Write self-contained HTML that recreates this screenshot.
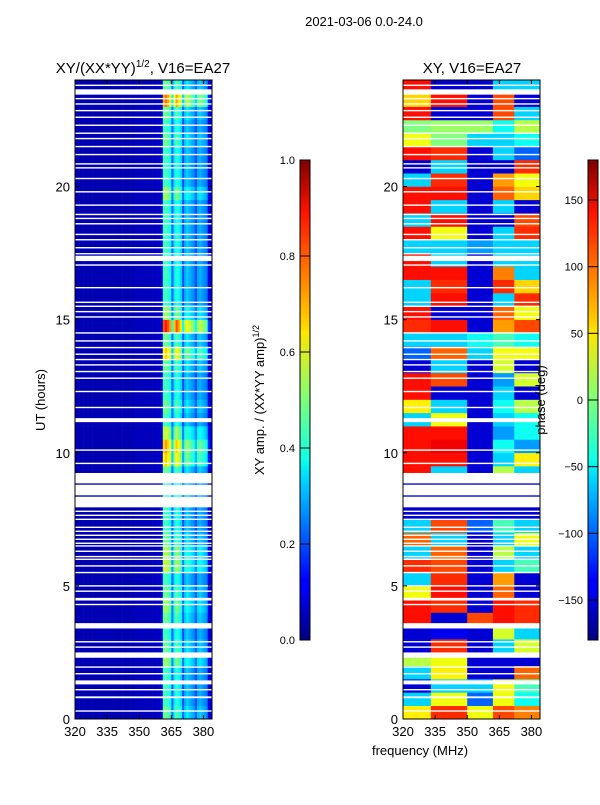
<!DOCTYPE html>
<html><head><meta charset="utf-8">
<style>
body{margin:0;background:#fff;}
svg text{font-family:"Liberation Sans",sans-serif;fill:#000;}
</style></head>
<body>
<svg id="fig" width="600" height="800" xmlns="http://www.w3.org/2000/svg">
<defs>
<linearGradient id="jetV" x1="0" y1="1" x2="0" y2="0">
<stop offset="0" stop-color="#00007f"/><stop offset="0.11" stop-color="#0000ff"/>
<stop offset="0.125" stop-color="#0000ff"/><stop offset="0.34" stop-color="#00dbff"/>
<stop offset="0.375" stop-color="#0dffe6"/><stop offset="0.5" stop-color="#7dff7a"/>
<stop offset="0.64" stop-color="#ffe600"/><stop offset="0.66" stop-color="#ffd000"/>
<stop offset="0.89" stop-color="#ff1300"/><stop offset="1" stop-color="#7f0000"/>
</linearGradient>
</defs>
<text x="364" y="26" font-size="13" text-anchor="middle">2021-03-06 0.0-24.0</text>
<g id="left"></g>
<g id="right"></g>
<g id="axes"></g>
</svg>
<script>
// ---- data ----
const hourRows = 48; // half-hour rows, 0..24 h
const ampChannels = [320,322,324,326,328,330,332,334,336,338,340,342,344,346,348,350,352,354,356,358,360,361,362,363,364,365,366,367,368,369,370,371,372,373,374,375,376,377,378,379,380,381,382,383];
const ampProfile  = [0.05,0.05,0.05,0.05,0.05,0.05,0.05,0.05,0.05,0.05,0.05,0.05,0.05,0.05,0.06,0.06,0.06,0.06,0.06,0.07,0.07,0.42,0.45,0.42,0.38,0.22,0.36,0.42,0.38,0.34,0.2,0.3,0.33,0.3,0.28,0.26,0.2,0.28,0.3,0.28,0.26,0.24,0.1,0.08];
const ampRowFactor = [1.1,1,1,1,1.2,1.1,1,1.1,1.2,1.1,1,1.3,1.25,1.1,1,1,1,1,1.1,1.5,1.6,1.3,1,1.1,1,1,1.1,1.5,1.1,1.9,1.2,1,1,1,1,1,1,1,1,1.2,1,1,1,1.1,1,1.1,1.7,1.1];
const phaseEdges = [320,333,350,362,372,384];
const phaseA1 = [50,-60,-150,-60,20,-150,-150,130,130,40,-60,120,-60,100,-60,-150,-150,-150,130,130,130,130,-60,50,130,130,-150,-100,-60,120,130,-60,-60,130,130,-60,130,-60,130,130,-60,-150,130,40,0,130,60,130];
const phaseA2 = [120,40,-60,50,40,120,-140,-150,120,130,120,110,100,-60,110,-150,-150,-150,-60,130,140,130,40,-60,-150,110,-60,100,-60,130,-150,130,120,130,-60,-60,40,130,-60,130,120,-60,120,0,10,-150,130,-150];
const phaseB  = [40,-100,-60,-150,-150,-150,-150,110,-150,-150,-150,-150,-150,-150,-100,-150,-150,-150,-150,-150,-150,-150,-150,-150,-150,-150,-150,-60,-40,-150,-150,-150,-150,-150,-150,-80,-150,-150,-150,-150,-150,-150,-150,-60,10,-150,-150,-150];
const phaseC1 = [110,40,40,-150,-150,-60,30,130,130,100,80,-60,20,-60,-20,-150,-150,-150,20,-60,-40,-80,-60,-40,-60,-80,30,40,-20,80,100,-60,120,90,-60,-60,-60,-150,-60,100,80,-150,-60,-60,-40,110,110,-60];
const phaseC2 = [90,-40,-20,100,-150,30,-60,120,120,-150,-150,-20,-60,40,-60,-150,-150,-150,-60,50,-80,-40,-40,20,-150,30,-150,40,-40,110,40,120,60,-60,-60,-60,120,110,-150,60,40,120,-100,-40,20,-60,-150,-60];
const flagBands = [[0.78,0.85],[1.3,1.45],[2.3,2.5],[3.4,3.6],[4.45,4.55],[7.95,8.35],[8.4,8.8],[8.85,9.24],[11.15,11.3],[17.2,17.4],[17.45,17.5],[23.45,23.65]];
const flagLines = [0.3,1.1,1.7,1.95,2.7,2.9,4.3,4.8,5.0,5.5,5.75,6.0,6.1,6.3,6.5,6.6,6.75,6.9,7.05,7.2,7.5,7.65,7.8,9.6,10.1,11.7,12.3,12.8,13.05,13.3,13.5,13.7,13.95,14.2,14.5,15.1,15.3,15.5,15.65,16.2,17.05,17.7,18.0,18.2,18.6,18.8,18.95,19.3,19.8,20.3,20.7,20.85,21.2,21.5,21.8,22.0,22.3,22.6,22.85,23.1,23.3,23.8];
const yTicks = [0,5,10,15,20];
const xTicks = [320,335,350,365,380];
const ampCbTicks = [0.0,0.2,0.4,0.6,0.8,1.0];
const phCbTicks = [-150,-100,-50,0,50,100,150];

// ---- layout ----
const NS="http://www.w3.org/2000/svg";
const P1={x0:75,x1:212}, P2={x0:403,x1:540};
const yTop=80,yBot=719;
const fMin=320,fMax=384;
function yOf(h){return yBot-(yBot-yTop)*h/24;}
function xOf(P,f){return P.x0+(P.x1-P.x0)*(f-fMin)/(fMax-fMin);}
function jet(v){v=Math.max(0,Math.min(1,v));
 const c=t=>Math.round(255*Math.max(0,Math.min(1,1.5-Math.abs(4*v-t))));
 return `rgb(${c(3)},${c(2)},${c(1)})`;}
function mk(tag,attrs,parent){const e=document.createElementNS(NS,tag);for(const k in attrs)e.setAttribute(k,attrs[k]);parent.appendChild(e);return e;}

const L=document.getElementById('left'), R=document.getElementById('right'), A=document.getElementById('axes');
for(let r=0;r<hourRows;r++){
 const ya=yOf((r+1)/2), yb=yOf(r/2);
 for(let c=0;c<ampChannels.length;c++){
  const f0=ampChannels[c], f1=c+1<ampChannels.length?ampChannels[c+1]:fMax;
  const isBand=f0>=361;
  const v=isBand?ampProfile[c]*ampRowFactor[r]:ampProfile[c];
  const e=mk('rect',{x:xOf(P1,f0),y:ya,width:xOf(P1,f1)-xOf(P1,f0)+0.3,height:yb-ya+0.3,fill:jet(v)},L);
  
  
 }
}
const phaseSeries=[phaseA1,phaseA2,phaseB,phaseC1,phaseC2];
for(let r=0;r<hourRows;r++){
 const ya=yOf((r+1)/2), yb=yOf(r/2);
 for(let s=0;s<phaseSeries.length;s++){
  const v=(phaseSeries[s][r]+180)/360;
  const x0=xOf(P2,phaseEdges[s]), x1=xOf(P2,phaseEdges[s+1]);
  const e=mk('rect',{x:x0,y:ya,width:x1-x0+0.3,height:yb-ya+0.3,fill:jet(v)},R);
  
  
 }
}
[P1,P2].forEach(P=>{
 const g=P===P1?L:R;
 flagBands.forEach(b=>{
  const e=mk('rect',{x:P.x0,y:yOf(b[1]),width:P.x1-P.x0,height:yOf(b[0])-yOf(b[1]),fill:'#fff'},g);
  
  
 });
 flagLines.forEach(h=>{
  const e=mk('rect',{x:P.x0,y:yOf(h)-0.7,width:P.x1-P.x0,height:1.4,fill:'#fff'},g);
  
  
 });
});
[[P1,'left'],[P2,'right']].forEach(([P,nm])=>{
 const fr=mk('rect',{x:P.x0,y:yTop,width:P.x1-P.x0,height:yBot-yTop,fill:'none',stroke:'#000','stroke-width':1},A);
 
 
 yTicks.forEach(h=>{
  const y=yOf(h);
  mk('line',{x1:P.x0,x2:P.x0+4,y1:y,y2:y,stroke:'#000'},A);
  mk('line',{x1:P.x1,x2:P.x1-4,y1:y,y2:y,stroke:'#000'},A);
  const t=mk('text',{x:P.x0-5,y:y+5,'font-size':13,'text-anchor':'end'},A);
  t.textContent=h;
  
  
 });
 xTicks.forEach(f=>{
  const x=xOf(P,f);
  mk('line',{x1:x,x2:x,y1:yBot,y2:yBot-4,stroke:'#000'},A);
  mk('line',{x1:x,x2:x,y1:yTop,y2:yTop+4,stroke:'#000'},A);
  const t=mk('text',{x:x,y:yBot+17,'font-size':13,'text-anchor':'middle'},A);
  t.textContent=f;
  
  
 });
});
function cbar(x,ticks,lo,hi,nm){
 const r=mk('rect',{x:x,y:160,width:10,height:480,fill:'url(#jetV)',stroke:'#000','stroke-width':1},A);
 
 
 ticks.forEach(v=>{
  const y=640-480*(v-lo)/(hi-lo);
  mk('line',{x1:x,x2:x+10,y1:y,y2:y,stroke:'#000'},A);
  const t=mk('text',{x:x-5,y:y+4,'font-size':11,'text-anchor':'end'},A);
  t.textContent=lo===0?v.toFixed(1):(v<0?'\u2212'+(-v):v);
  
  
 });
}
cbar(300,ampCbTicks,0,1,'amplitude-colorbar');
cbar(588,phCbTicks,-180,180,'phase-colorbar');
</script>
<div style="position:absolute;left:0;top:0;width:600px;height:800px;pointer-events:none;">
<svg width="600" height="800" xmlns="http://www.w3.org/2000/svg">
<text x="143" y="73" font-size="15" text-anchor="middle" font-family="Liberation Sans, sans-serif">XY/(XX*YY)<tspan font-size="10" dy="-6">1/2</tspan><tspan dy="6">, V16=EA27</tspan></text>
<text x="472" y="73" font-size="15" text-anchor="middle" font-family="Liberation Sans, sans-serif">XY, V16=EA27</text>
<text transform="translate(45,400) rotate(-90)" font-size="13" text-anchor="middle" font-family="Liberation Sans, sans-serif">UT (hours)</text>
<text x="420" y="755" font-size="13" text-anchor="middle" font-family="Liberation Sans, sans-serif">frequency (MHz)</text>
<text transform="translate(264,400) rotate(-90)" font-size="13" text-anchor="middle" font-family="Liberation Sans, sans-serif">XY amp. / (XX*YY amp)<tspan font-size="9" dy="-5">1/2</tspan></text>
<text transform="translate(545,400) rotate(-90)" font-size="13" text-anchor="middle" font-family="Liberation Sans, sans-serif">phase (deg)</text>
</svg></div>
</body></html>
